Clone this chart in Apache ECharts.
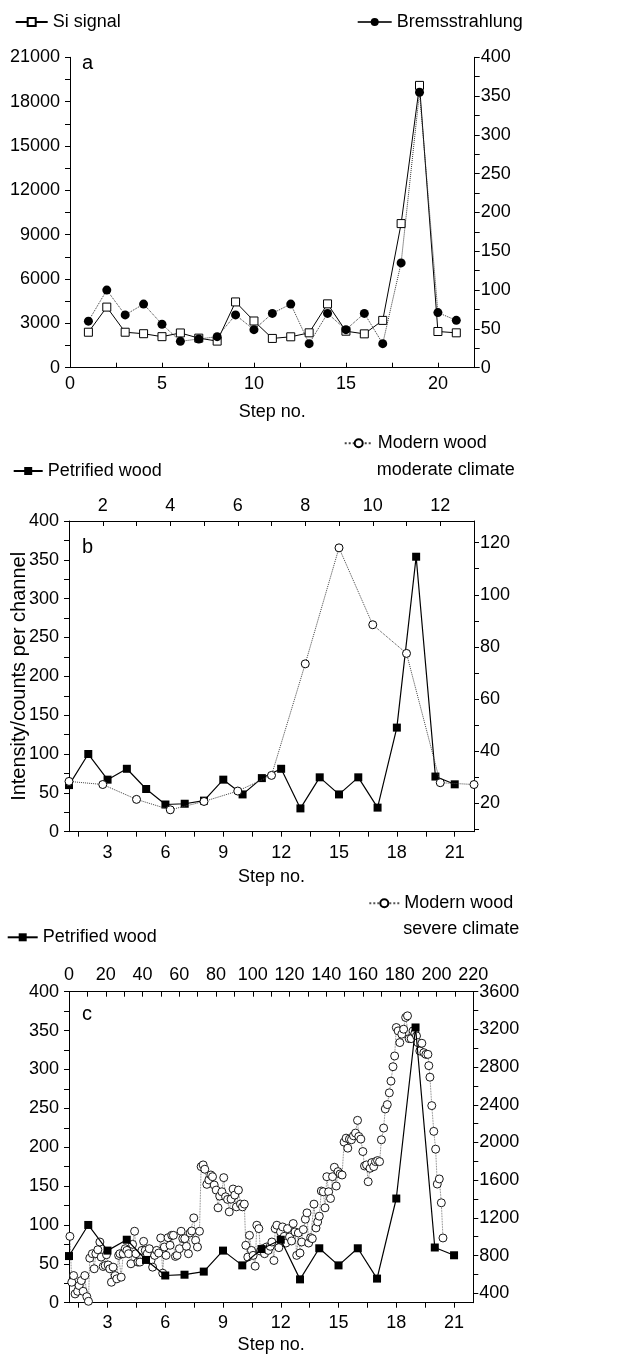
<!DOCTYPE html>
<html><head><meta charset="utf-8">
<script src="https://cdn.jsdelivr.net/npm/echarts@6/dist/echarts.min.js"></script>
<style>html,body{margin:0;padding:0;background:#fff}#c{width:622px;height:1356px}</style>
</head><body><div id="c"></div>
<script>
// ---------- data ----------
const stepsA = [1,2,3,4,5,6,7,8,9,10,11,12,13,14,15,16,17,18,19,20,21];
const siSignal = [2400,4100,2400,2300,2100,2350,2000,1800,4450,3160,1980,2090,2360,4320,2470,2290,3200,9750,19100,2450,2360];
const bremsstrahlung = [60,100,68,82,56,34,37,40,68,49,70,82,31,70,49,70,31,135,355,71,61];

const petrifiedSteps = [1,2,3,4,5,6,7,8,9,10,11,12,13,14,15,16,17,18,19,20,21];
const petrified = [60,100,67,81,55,35,36,40,67,48,69,81,30,70,48,70,31,134,354,71,61];

const moderateSteps = [1,2,3,4,5,6,7,8,9,10,11,12,13];
const moderate = [28.4,27.2,21.5,17.5,20.7,24.7,30.7,73.5,118,88.5,77.5,27.9,27.2];

const severeX = [0.5,1.5,2.5,3.3,4.7,5.5,6.7,7.7,8.6,9.7,
10.6,11.3,12.7,13.7,14.6,15.7,16.8,17.5,18.6,19.7,
20.4,21.3,22.2,23.1,24,25.1,26,27,27.7,28.4,
29.5,30.6,31.5,32.4,33.7,34.6,35.7,36.4,37.5,38.6,
39.7,40.6,41.5,42.6,43.7,44.6,45.5,46.6,47.7,48.8,
49.9,51,51.9,52.8,53.9,55,55.9,56.8,57.9,58.8,
60.1,61,61.9,63,63.9,65,65.9,66.8,67.9,68.9,
69.9,71,71.9,73,73.9,75,76.1,77.2,78.1,79,
80.1,81.1,82,83.2,84.2,85.2,86.3,87.2,88.2,89.3,
90.2,91.1,92.2,93.3,94.4,95.4,96.2,97.3,98.2,99.3,
100.2,101.3,102.2,103.3,104.2,105.3,106.4,107.5,108.4,109.5,
110.4,111.5,112.2,113.1,114.2,115.1,116.2,117.1,118,118.9,
120,121.1,122,123,123.9,124.8,125.7,126.6,127.5,128.6,
129.5,130.4,131.5,132.4,133.3,134.4,135.3,136.2,137.3,138.4,
139.3,140.3,141.3,142.3,143.4,144.4,145.4,146.4,147.5,148.6,
149.7,150.8,151.7,152.6,153.7,154.8,155.9,157,157.7,158.8,
159.9,160.8,161.9,162.8,163.8,164.8,165.8,166.8,167.9,169,
170,171.2,172.1,173.2,174.3,175.2,176.3,177.2,178.1,179.1,
180,181.1,182.1,183.2,184.2,185.1,186.2,187.2,188.2,189.1,
189.8,190.9,192,193.1,194.2,195.3,195.8,196.4,197.4,198.5,
199.5,200.4,201.5,202.6,203.5];
const severe = [1004,517,588,393,421,482,535,421,588,364,
315,773,820,660,820,862,944,784,684,695,
809,700,660,517,677,588,553,802,820,571,
820,873,855,820,713,919,1058,820,731,731,
855,951,855,820,873,748,677,802,855,827,
987,613,891,802,990,909,1015,1015,791,802,
873,1058,980,980,898,820,1040,1061,1200,962,
891,1058,1744,1762,1716,1556,1602,1655,1637,1549,
1495,1307,1431,1477,1627,1424,1396,1264,1399,1506,
1442,1317,1495,1346,1317,1346,909,784,1015,855,
802,688,1122,1086,848,873,820,891,855,898,
944,748,1086,1122,884,1051,1104,1004,933,1086,
997,955,1140,1051,802,1040,827,944,1076,1186,
1253,933,990,980,1346,1093,1157,1218,1485,1477,
1307,1637,1477,1406,1637,1737,1538,1691,1666,1655,
2004,2046,1940,2036,2029,2071,2100,2235,2064,2036,
1904,1751,1762,1584,1726,1787,1744,1797,1808,1797,
2029,2153,2356,2402,2527,2651,2804,2918,3220,3184,
3060,3149,3202,3327,3344,3102,3102,3184,3159,3131,
3060,2971,3053,2953,2935,2935,2815,2693,2391,2118,
1929,1559,1613,1360,987];

// tick / label values
const aLeftTicks = {min:0, max:21000, interval:3000};
const aRightTicks = {min:0, max:400, interval:50};
const aBottomLabels = [0,5,10,15,20];
const aBottomTicks = [0,2.5,5,7.5,10,12.5,15,17.5,20];
const stepLabels = [3,6,9,12,15,18,21];
const stepTicks = [1.5,3,4.5,6,7.5,9,10.5,12,13.5,15,16.5,18,19.5,21];
const bTopLabels = [2,4,6,8,10,12];
const bTopTicks = [2,3,4,5,6,7,8,9,10,11,12];
const bRightLabels = [20,40,60,80,100,120];
const bRightTicks = [10,20,30,40,50,60,70,80,90,100,110,120];
const cRightLabels = [400,800,1200,1600,2000,2400,2800,3200,3600];
const cRightTicks = [400,600,800,1000,1200,1400,1600,1800,2000,2200,2400,2600,2800,3000,3200,3400,3600];

// ---------- chart ----------
const FONT = '"Liberation Sans", Arial, Helvetica, sans-serif';
const TXT = {color:'#000', fontSize:18, fontFamily:FONT};
const plain = v => String(v);

function axis(o) {
  const a = {
    type:'value', splitLine:{show:false},
    axisLine:{show:true, onZero:false, lineStyle:{color:'#000', width:1}},
    axisTick:Object.assign({show:true, length:5, inside:false, lineStyle:{color:'#000', width:1}}, o.tick||{}),
    axisLabel:Object.assign({formatter:plain}, TXT, o.label||{}),
    minorTick:Object.assign({show:false}, o.minor||{}),
    nameTextStyle:Object.assign({}, TXT, o.nameStyle||{}),
    nameMoveOverlap:false,
  };
  ['gridIndex','position','min','max','interval','name','nameLocation','nameGap'].forEach(k=>{ if (o[k]!==undefined) a[k]=o[k]; });
  return a;
}
const MINOR = {show:true, splitNumber:2, length:5, lineStyle:{color:'#000'}};

const chart = echarts.init(document.getElementById('c'), null, {renderer:'canvas'});

const option = {
  animation:false,
  backgroundColor:'#fff',
  grid:[
    {left:70, top:57.3, width:404.7, height:310.4, containLabel:false, outerBoundsMode:'none'},
    {left:69, top:521, width:405, height:310.7, containLabel:false, outerBoundsMode:'none'},
    {left:69, top:991.7, width:404.3, height:311, containLabel:false, outerBoundsMode:'none'}
  ],
  xAxis:[
    axis({gridIndex:0, position:'bottom', min:0, max:22, name:'Step no.', nameLocation:'middle', nameGap:35,
      label:{margin:7, customValues:aBottomLabels}, tick:{inside:true, customValues:aBottomTicks}}),
    axis({gridIndex:1, position:'bottom', min:1, max:22, name:'Step no.', nameLocation:'middle', nameGap:36,
      label:{margin:12, customValues:stepLabels}, tick:{customValues:stepTicks}}),
    axis({gridIndex:1, position:'top', min:1, max:13,
      label:{margin:6, customValues:bTopLabels}, tick:{inside:true, customValues:bTopTicks}}),
    axis({gridIndex:2, position:'bottom', min:1, max:22, name:'Step no.', nameLocation:'middle', nameGap:33,
      label:{margin:11, customValues:stepLabels}, tick:{customValues:stepTicks}}),
    axis({gridIndex:2, position:'top', min:0, max:220, interval:20,
      label:{margin:8}, tick:{inside:true}, minor:Object.assign({}, MINOR)})
  ],
  yAxis:[
    axis({gridIndex:0, position:'left', min:aLeftTicks.min, max:aLeftTicks.max, interval:aLeftTicks.interval,
      label:{margin:10}, minor:MINOR}),
    axis({gridIndex:0, position:'right', min:aRightTicks.min, max:aRightTicks.max, interval:aRightTicks.interval,
      label:{margin:6}, minor:MINOR}),
    axis({gridIndex:1, position:'left', min:0, max:400, interval:50, name:'Intensity/counts per channel',
      nameLocation:'middle', nameGap:40, nameStyle:{fontSize:20},
      label:{margin:10}, minor:MINOR}),
    axis({gridIndex:1, position:'right', min:9.1, max:128.3,
      label:{margin:6, customValues:bRightLabels}, tick:{customValues:bRightTicks}}),
    axis({gridIndex:2, position:'left', min:0, max:400, interval:50,
      label:{margin:10}, minor:MINOR}),
    axis({gridIndex:2, position:'right', min:300, max:3600,
      label:{margin:6, customValues:cRightLabels}, tick:{customValues:cRightTicks}})
  ],
  legend:[
    {left:14.7, top:12, padding:0, itemWidth:32, itemHeight:10, textStyle:Object.assign({lineHeight:20}, TXT),
      data:[{name:'Si signal'}]},
    {left:356.7, top:12, padding:0, itemWidth:34, itemHeight:10, textStyle:Object.assign({lineHeight:20}, TXT),
      data:[{name:'Bremsstrahlung', lineStyle:{type:'solid'}}]},
    {left:12.7, top:461, padding:0, itemWidth:29, itemHeight:10, textStyle:Object.assign({lineHeight:20}, TXT),
      data:[{name:'Petrified wood'}]},
    {left:343.7, top:433.3, padding:0, itemWidth:28, itemHeight:10, textStyle:Object.assign({lineHeight:20}, TXT),
      formatter:()=> 'Modern wood', data:[{name:'Modern wood moderate climate'}]},
    {left:6.7, top:927.3, padding:0, itemWidth:30, itemHeight:10, textStyle:Object.assign({lineHeight:20}, TXT),
      data:[{name:'Petrified wood '}]},
    {left:368.3, top:893.3, padding:0, itemWidth:30, itemHeight:10, textStyle:Object.assign({lineHeight:20}, TXT),
      formatter:()=> 'Modern wood', data:[{name:'Modern wood severe climate'}]}
  ],
  graphic:[
    {type:'text', x:82, y:63, style:{text:'a', fontSize:20, fontFamily:FONT, fill:'#000', verticalAlign:'middle'}},
    {type:'text', x:82, y:547, style:{text:'b', fontSize:20, fontFamily:FONT, fill:'#000', verticalAlign:'middle'}},
    {type:'text', x:82, y:1014, style:{text:'c', fontSize:20, fontFamily:FONT, fill:'#000', verticalAlign:'middle'}},
    {type:'text', x:376.7, y:470, style:{text:'moderate climate', fontSize:18, fontFamily:FONT, fill:'#000', verticalAlign:'middle'}},
    {type:'text', x:403.3, y:929.3, style:{text:'severe climate', fontSize:18, fontFamily:FONT, fill:'#000', verticalAlign:'middle'}}
  ],
  series:[
    {name:'Si signal', type:'line', xAxisIndex:0, yAxisIndex:0, z:3,
      data:stepsA.map((s,i)=>[s, siSignal[i]]), symbol:'rect', symbolSize:8,
      itemStyle:{color:'#fff', borderColor:'#000', borderWidth:1},
      lineStyle:{color:'#000', width:1, type:'solid'}},
    {name:'Bremsstrahlung', type:'line', xAxisIndex:0, yAxisIndex:1, z:4,
      data:stepsA.map((s,i)=>[s, bremsstrahlung[i]]), symbol:'circle', symbolSize:9,
      itemStyle:{color:'#000', borderColor:'#000', borderWidth:0},
      lineStyle:{color:'#333', width:1, type:'dotted'}},
    {name:'Petrified wood', type:'line', xAxisIndex:1, yAxisIndex:2, z:3,
      data:petrifiedSteps.map((s,i)=>[s, petrified[i]]), symbol:'rect', symbolSize:8,
      itemStyle:{color:'#000', borderWidth:0},
      lineStyle:{color:'#000', width:1.2, type:'solid'}},
    {name:'Modern wood moderate climate', type:'line', xAxisIndex:2, yAxisIndex:3, z:4,
      data:moderateSteps.map((s,i)=>[s, moderate[i]]), symbol:'circle', symbolSize:8,
      itemStyle:{color:'#fff', borderColor:'#000', borderWidth:1},
      lineStyle:{color:'#444', width:1, type:'dotted'}},
    {name:'Modern wood severe climate', type:'line', xAxisIndex:4, yAxisIndex:5, z:3,
      data:severeX.map((s,i)=>[s, severe[i]]), symbol:'circle', symbolSize:8,
      itemStyle:{color:'#fff', borderColor:'#000', borderWidth:0.9},
      lineStyle:{color:'#555', width:0.8, type:'dotted'}},
    {name:'Petrified wood ', type:'line', xAxisIndex:3, yAxisIndex:4, z:4,
      data:petrifiedSteps.map((s,i)=>[s, petrified[i]]), symbol:'rect', symbolSize:8,
      itemStyle:{color:'#000', borderWidth:0},
      lineStyle:{color:'#000', width:1.2, type:'solid'}}
  ]
};
chart.setOption(option);
</script></body></html>
